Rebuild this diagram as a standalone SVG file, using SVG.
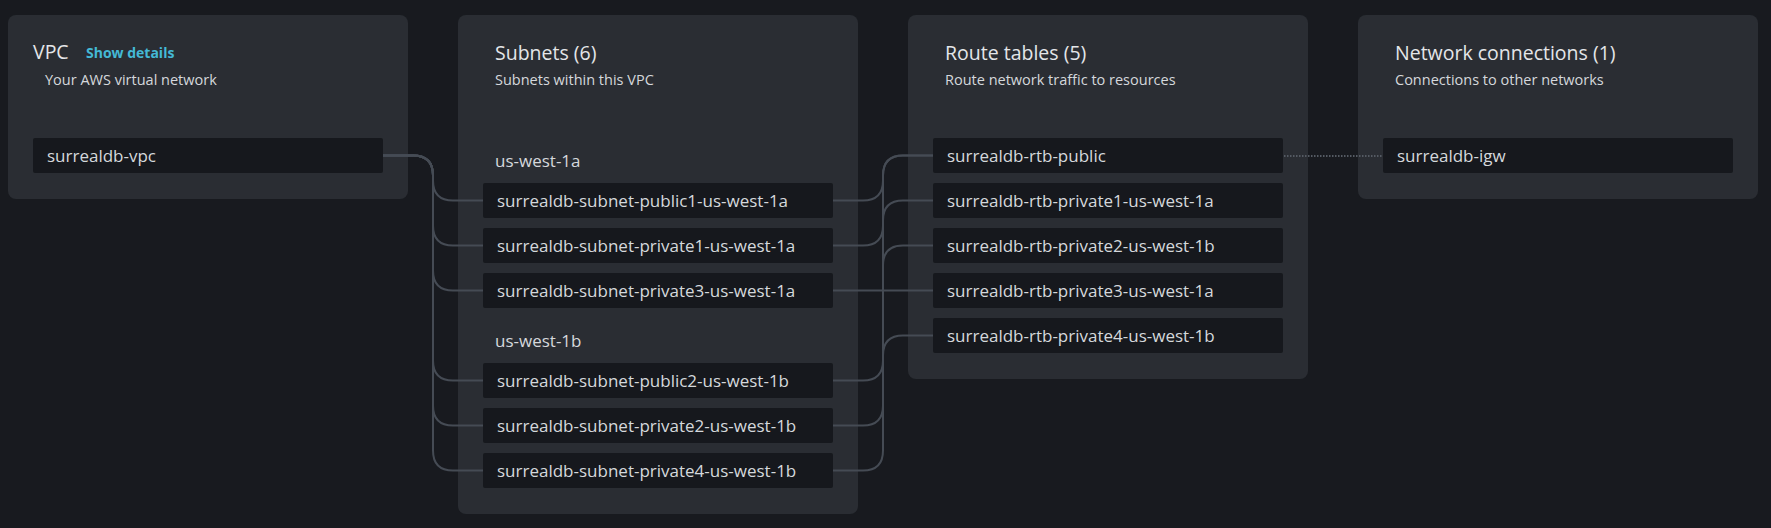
<svg xmlns="http://www.w3.org/2000/svg" width="1771" height="528" viewBox="0 0 1771 528">
<style>
.panel{fill:#2a2d33}
.box{fill:#16181d}
.title{font-family:"Open Sans","Noto Sans",sans-serif;font-size:19.5px;fill:#e4e6e9}
.sub{font-family:"Open Sans","Noto Sans",sans-serif;font-size:14.5px;fill:#d5d8dc}
.lbl{font-family:"Open Sans","Noto Sans",sans-serif;font-size:17px;fill:#d5d8dc}
.link{font-family:"Open Sans","Noto Sans",sans-serif;font-size:14px;font-weight:bold;fill:#44b9d6}
.conn{fill:none;stroke:#454b54;stroke-width:2}
.dot{fill:none;stroke:#545a63;stroke-width:2;stroke-dasharray:1.5 1.5}
</style>
<rect width="1771" height="528" fill="#181a1f"/>

<g id="panel-vpc">
<rect class="panel" x="8" y="15" width="400" height="184" rx="8"/>
<text class="title" x="33" y="59">VPC</text>
<text class="link" x="86" y="58">Show details</text>
<text class="sub" x="45" y="85">Your AWS virtual network</text>
</g>
<g id="panel-subnets">
<rect class="panel" x="458" y="15" width="400" height="499" rx="8"/>
<text class="title" x="495" y="60">Subnets (6)</text>
<text class="sub" x="495" y="85">Subnets within this VPC</text>
<text class="lbl" x="495" y="167">us-west-1a</text>
<text class="lbl" x="495" y="347">us-west-1b</text>
</g>
<g id="panel-rtb">
<rect class="panel" x="908" y="15" width="400" height="364" rx="8"/>
<text class="title" x="945" y="60">Route tables (5)</text>
<text class="sub" x="945" y="85">Route network traffic to resources</text>
</g>
<g id="panel-net">
<rect class="panel" x="1358" y="15" width="400" height="184" rx="8"/>
<text class="title" x="1395" y="60">Network connections (1)</text>
<text class="sub" x="1395" y="85">Connections to other networks</text>
</g>

<g id="connectors">
<path class="conn" d="M383 155.5 H413 Q433 155.5 433 175.5 V180.5 Q433 200.5 453 200.5 H483"/>
<path class="conn" d="M383 155.5 H413 Q433 155.5 433 175.5 V225.5 Q433 245.5 453 245.5 H483"/>
<path class="conn" d="M383 155.5 H413 Q433 155.5 433 175.5 V270.5 Q433 290.5 453 290.5 H483"/>
<path class="conn" d="M383 155.5 H413 Q433 155.5 433 175.5 V360.5 Q433 380.5 453 380.5 H483"/>
<path class="conn" d="M383 155.5 H413 Q433 155.5 433 175.5 V405.5 Q433 425.5 453 425.5 H483"/>
<path class="conn" d="M383 155.5 H413 Q433 155.5 433 175.5 V450.5 Q433 470.5 453 470.5 H483"/>
<path class="conn" d="M833 200.5 H863 Q883 200.5 883 180.5 V175.5 Q883 155.5 903 155.5 H933"/>
<path class="conn" d="M833 245.5 H863 Q883 245.5 883 225.5 V220.5 Q883 200.5 903 200.5 H933"/>
<path class="conn" d="M833 290.5 H933"/>
<path class="conn" d="M833 380.5 H863 Q883 380.5 883 360.5 V175.5 Q883 155.5 903 155.5 H933"/>
<path class="conn" d="M833 425.5 H863 Q883 425.5 883 405.5 V265.5 Q883 245.5 903 245.5 H933"/>
<path class="conn" d="M833 470.5 H863 Q883 470.5 883 450.5 V355.5 Q883 335.5 903 335.5 H933"/>
<path class="dot" d="M1284 156 H1383"/>
</g>

<g id="node-vpc"><rect class="box" x="33" y="138" width="350" height="35" rx="2"/><text class="lbl" x="47" y="162">surrealdb-vpc</text></g>

<g id="node-subnet-public1"><rect class="box" x="483" y="183" width="350" height="35" rx="2"/><text class="lbl" x="497" y="207">surrealdb-subnet-public1-us-west-1a</text></g>
<g id="node-subnet-private1"><rect class="box" x="483" y="228" width="350" height="35" rx="2"/><text class="lbl" x="497" y="252">surrealdb-subnet-private1-us-west-1a</text></g>
<g id="node-subnet-private3"><rect class="box" x="483" y="273" width="350" height="35" rx="2"/><text class="lbl" x="497" y="297">surrealdb-subnet-private3-us-west-1a</text></g>
<g id="node-subnet-public2"><rect class="box" x="483" y="363" width="350" height="35" rx="2"/><text class="lbl" x="497" y="387">surrealdb-subnet-public2-us-west-1b</text></g>
<g id="node-subnet-private2"><rect class="box" x="483" y="408" width="350" height="35" rx="2"/><text class="lbl" x="497" y="432">surrealdb-subnet-private2-us-west-1b</text></g>
<g id="node-subnet-private4"><rect class="box" x="483" y="453" width="350" height="35" rx="2"/><text class="lbl" x="497" y="477">surrealdb-subnet-private4-us-west-1b</text></g>

<g id="node-rtb-public"><rect class="box" x="933" y="138" width="350" height="35" rx="2"/><text class="lbl" x="947" y="162">surrealdb-rtb-public</text></g>
<g id="node-rtb-private1"><rect class="box" x="933" y="183" width="350" height="35" rx="2"/><text class="lbl" x="947" y="207">surrealdb-rtb-private1-us-west-1a</text></g>
<g id="node-rtb-private2"><rect class="box" x="933" y="228" width="350" height="35" rx="2"/><text class="lbl" x="947" y="252">surrealdb-rtb-private2-us-west-1b</text></g>
<g id="node-rtb-private3"><rect class="box" x="933" y="273" width="350" height="35" rx="2"/><text class="lbl" x="947" y="297">surrealdb-rtb-private3-us-west-1a</text></g>
<g id="node-rtb-private4"><rect class="box" x="933" y="318" width="350" height="35" rx="2"/><text class="lbl" x="947" y="342">surrealdb-rtb-private4-us-west-1b</text></g>

<g id="node-igw"><rect class="box" x="1383" y="138" width="350" height="35" rx="2"/><text class="lbl" x="1397" y="162">surrealdb-igw</text></g>
</svg>
